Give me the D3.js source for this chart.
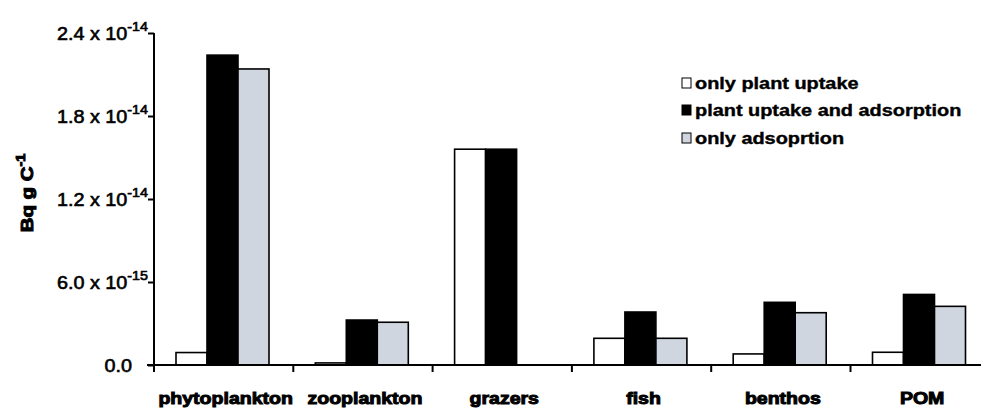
<!DOCTYPE html>
<html>
<head>
<meta charset="utf-8">
<script src="https://cdn.jsdelivr.net/npm/d3@7"></script>
<style>
    body { margin: 0; background: #fff; }
    text { font-family: "Liberation Sans", Arial, sans-serif; fill: #000; }
</style>
</head>
<body>
<svg id="chart" width="981" height="408"></svg>
<script>
const categories = ["phytoplankton", "zooplankton", "grazers", "fish", "benthos", "POM"];
const seriesNames = ["only plant uptake", "plant uptake and adsorption", "only adsoprtion"];
const seriesColors = ["#ffffff", "#000000", "#cfd6df"];

// Bq g C-1
const onlyPlant = [0.9e-15, 0.15e-15, 1.56e-14, 1.93e-15, 0.8e-15, 0.92e-15];
const plantAndAds = [2.24e-14, 3.25e-15, 1.56e-14, 3.83e-15, 4.53e-15, 5.1e-15];
const onlyAds = [2.14e-14, 3.09e-15, 0, 1.93e-15, 3.78e-15, 4.24e-15];

const yTicks = [0, 6e-15, 1.2e-14, 1.8e-14, 2.4e-14];
const yTickLabels = [["0.0", null], ["6.0", "-15"], ["1.2", "-14"], ["1.8", "-14"], ["2.4", "-14"]];

const svg = d3.select("#chart");
const margin = { left: 154, top: 33, bottom: 365 };

const x = d3.scaleBand(categories, [margin.left, margin.left + 6 * 139.3]);
const xSub = d3.scaleBand(d3.range(3), [22, 115]);
const y = d3.scaleLinear([0, 2.4e-14], [margin.bottom, margin.top]);

const allSeries = [onlyPlant, plantAndAds, onlyAds];

// bars
allSeries.forEach((vals, si) => {
    svg.append("g").selectAll("rect")
        .data(vals.map((v, i) => ({ cat: categories[i], v })).filter(d => d.v > 0))
        .enter()
        .append("rect")
        .attr("x", d => x(d.cat) + xSub(si))
        .attr("y", d => y(d.v))
        .attr("width", xSub.bandwidth())
        .attr("height", d => y(0) - y(d.v))
        .attr("fill", seriesColors[si])
        .attr("stroke", "#000")
        .attr("stroke-width", 1.6);
});

// y axis
const yAxis = svg.append("g").attr("transform", `translate(${margin.left},0)`)
    .call(d3.axisLeft(y).tickValues(yTicks).tickSize(6).tickFormat(""));
yAxis.select(".domain").attr("d", `M0,${margin.top}V${margin.bottom + 7}`);
yAxis.selectAll("line, path").attr("stroke", "#000").attr("stroke-width", 2);

yTicks.forEach((t, i) => {
    const [mant, exp] = yTickLabels[i];
    const txt = svg.append("text")
        .attr("x", 0).attr("y", 0)
        .attr("text-anchor", "end")
        .attr("font-size", 18)
        .attr("stroke", "#000").attr("stroke-width", 0.6)
        .attr("transform", `translate(${exp ? 148 : 132},${y(t) + 7}) scale(1.1,1)`);
    if (exp) {
        txt.append("tspan").text(mant + " x 10");
        txt.append("tspan").attr("font-size", 13).attr("dy", -9).text(exp);
    } else {
        txt.text(mant);
    }
});

// x axis
const xAxis = svg.append("g").attr("transform", `translate(0,${margin.bottom})`);
xAxis.append("line").attr("x1", 147).attr("x2", 981).attr("stroke", "#000").attr("stroke-width", 2);
xAxis.selectAll(".tick").data(categories.slice(1)).enter().append("line")
    .attr("x1", d => x(d)).attr("x2", d => x(d))
    .attr("y1", 0).attr("y2", 7)
    .attr("stroke", "#000").attr("stroke-width", 2);

svg.append("g").selectAll("text").data(categories).enter().append("text")
    .attr("text-anchor", "middle")
    .attr("font-size", 17).attr("font-weight", "bold")
    .attr("stroke", "#000").attr("stroke-width", 1)
    .attr("transform", d => `translate(${x(d) + x.bandwidth() / 2 + 2},404) scale(1.15,1)`)
    .text(d => d);

// y title
const yTitle = svg.append("text")
    .attr("text-anchor", "middle")
    .attr("font-size", 17).attr("font-weight", "bold")
    .attr("stroke", "#000").attr("stroke-width", 1)
    .attr("transform", "translate(33,193) rotate(-90) scale(1.2,1)");
yTitle.append("tspan").text("Bq g C");
yTitle.append("tspan").attr("font-size", 12).attr("dy", -8).text("-1");

// legend
const legend = svg.append("g").attr("transform", "translate(682,0)");
seriesNames.forEach((name, i) => {
    const cy = [83, 110, 138][i];
    legend.append("rect")
        .attr("x", 0).attr("y", cy - 5).attr("width", 9).attr("height", 10)
        .attr("fill", seriesColors[i]).attr("stroke", "#000").attr("stroke-width", 1);
    legend.append("text")
        .attr("font-size", 17).attr("font-weight", "bold")
        .attr("stroke", "#000").attr("stroke-width", 0.4)
        .attr("transform", `translate(13,${cy + 6}) scale(1.17,1)`)
        .text(name);
});
</script>
</body>
</html>
